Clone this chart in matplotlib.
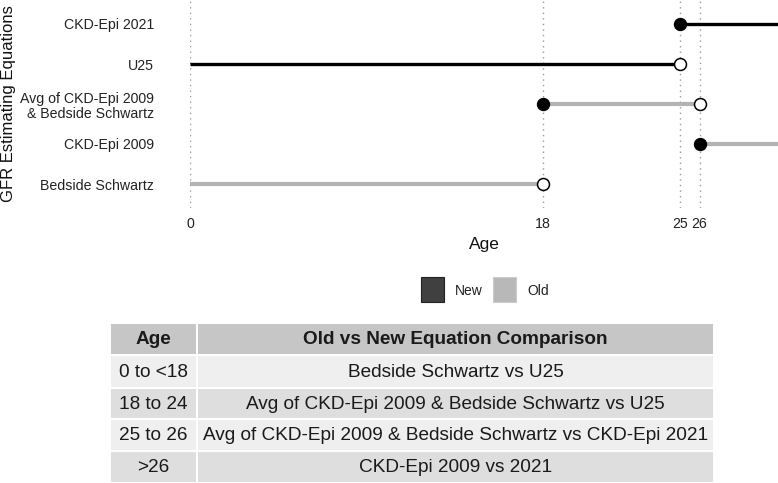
import matplotlib
matplotlib.use('Agg')
import matplotlib.pyplot as plt
from matplotlib.patches import Rectangle

plt.rcParams['font.family'] = ['Liberation Sans', 'DejaVu Sans']

# data
equations = ['Bedside Schwartz', 'CKD-Epi 2009', 'Avg of CKD-Epi 2009\n& Bedside Schwartz', 'U25', 'CKD-Epi 2021']
start_age = [0, 26, 18, 0, 25]
end_age = [18, 30, 26, 25, 30]
group = ['Old', 'Old', 'Old', 'New', 'New']
start_mark = [None, 'filled', 'filled', None, 'filled']
end_mark = ['open', None, 'open', 'open', None]
age_breaks = [0, 18, 25, 26]

table_header = ['Age', 'Old vs New Equation Comparison']
table_age = ['0 to <18', '18 to 24', '25 to 26', '>26']
table_comp = ['Bedside Schwartz vs U25',
              'Avg of CKD-Epi 2009 & Bedside Schwartz vs U25',
              'Avg of CKD-Epi 2009 & Bedside Schwartz vs CKD-Epi 2021',
              'CKD-Epi 2009 vs 2021']

line_col = {'New': '#000000', 'Old': '#b3b3b3'}
legend_col = {'New': '#404040', 'Old': '#b8b8b8'}

W, H = 778, 483
fig = plt.figure(figsize=(W / 100, H / 100), dpi=100)

# background axes in pixel coordinates for legend and table
bg = fig.add_axes([0, 0, 1, 1])
bg.set_xlim(0, W)
bg.set_ylim(H, 0)
bg.axis('off')

# main plot
ax = fig.add_axes([190 / W, 1 - 208 / H, 588 / W, 208 / H])
ypos = list(range(1, len(equations) + 1))
for b in age_breaks:
    ax.axvline(b, color='#9a9a9a', linestyle=(0, (1, 3)), linewidth=1.0, zorder=1)
for i, y in enumerate(ypos):
    c = line_col[group[i]]
    lw = 2.4 if group[i] == 'New' else 3.0
    ax.plot([start_age[i], end_age[i]], [y, y], color=c, linewidth=lw, solid_capstyle='butt', zorder=2)
    if start_mark[i] == 'filled':
        ax.plot(start_age[i], y, 'o', markersize=8.6, markerfacecolor='black',
                markeredgecolor='black', markeredgewidth=1.0, zorder=3)
    if end_mark[i] == 'open':
        ax.plot(end_age[i], y, 'o', markersize=8.6, markerfacecolor='white',
                markeredgecolor='black', markeredgewidth=1.1, zorder=3)

ax.set_xlim(0, 30)
ax.set_ylim(0.4, 5.6)
ax.set_xticks(age_breaks)
ax.set_xticklabels([str(a) for a in age_breaks])
ax.set_yticks(ypos)
ax.set_yticklabels(equations, linespacing=1.12)
ax.tick_params(axis='y', length=0, pad=26, labelsize=10.2, labelcolor='#222222')
ax.tick_params(axis='x', length=0, pad=6.5, labelsize=10.2, labelcolor='#222222')
for s in ax.spines.values():
    s.set_visible(False)
ax.set_facecolor('none')
ax.set_xlabel('Age', fontsize=12.5, labelpad=4, color='#111111')
fig.text(9 / W, 1 - 104 / H, 'GFR Estimating Equations', rotation=90, ha='center', va='center',
         fontsize=12, color='#111111')

# legend
lx = 421
for g, tx in [('New', 455), ('Old', 527)]:
    bg.add_patch(Rectangle((lx, 277), 23, 25, facecolor=legend_col[g],
                           edgecolor='#222222' if g == 'New' else '#cccccc', linewidth=0.8))
    bg.text(tx, 291, g, ha='left', va='center', fontsize=10, color='#222222')
    lx = 493

# table
col_x = [(111, 196), (198, 713)]
row_y = [(324, 354), (356, 387), (389, 418), (420, 450), (452, 482)]
row_fill = ['#c6c6c6', '#efefef', '#dedede', '#efefef', '#dedede']
cells = [table_header] + [[a, c] for a, c in zip(table_age, table_comp)]
for r, (y0, y1) in enumerate(row_y):
    for c, (x0, x1) in enumerate(col_x):
        bg.add_patch(Rectangle((x0, y0), x1 - x0, y1 - y0, facecolor=row_fill[r], edgecolor='none'))
        bg.text((x0 + x1) / 2, (y0 + y1) / 2 + 1, cells[r][c], ha='center', va='center',
                fontsize=13.7, color='#1a1a1a', fontweight='bold' if r == 0 else 'normal')

fig.savefig('out.png', dpi=100)
